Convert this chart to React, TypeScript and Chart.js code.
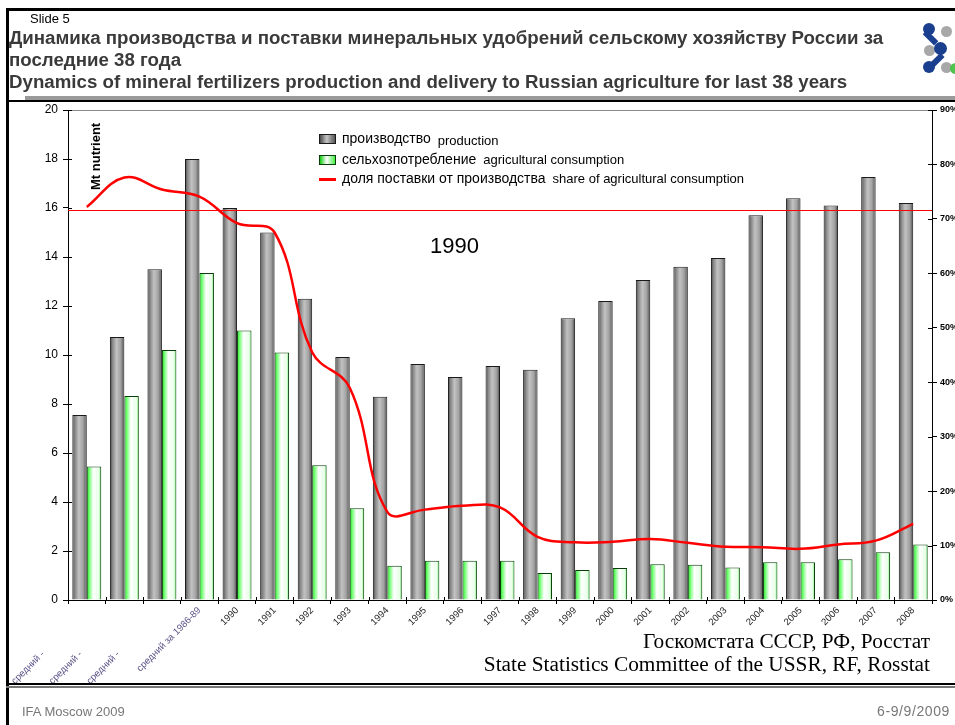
import React, { useEffect, useRef } from 'react';
import { Chart, registerables } from 'chart.js';

Chart.register(...registerables);

const CATEGORIES = [
  'средний -', 'средний -', 'средний -', 'средний за 1986-89',
  '1990', '1991', '1992', '1993', '1994', '1995', '1996', '1997', '1998', '1999',
  '2000', '2001', '2002', '2003', '2004', '2005', '2006', '2007', '2008',
];
const PRODUCTION = [7.55, 10.73, 13.5, 18.0, 16.0, 15.0, 12.3, 9.92, 8.3, 9.63, 9.1, 9.55, 9.4, 11.5, 12.2, 13.06, 13.6, 13.96, 15.7, 16.4, 16.1, 17.27, 16.2];
const CONSUMPTION = [5.45, 8.33, 10.2, 13.35, 11.0, 10.1, 5.5, 3.75, 1.4, 1.6, 1.6, 1.6, 1.1, 1.22, 1.31, 1.46, 1.44, 1.33, 1.54, 1.54, 1.66, 1.95, 2.27];
const SHARE = [72.2, 77.6, 75.4, 74.1, 69.2, 67.5, 45.5, 39.0, 16.2, 16.6, 17.3, 17.0, 11.6, 10.6, 10.7, 11.2, 10.5, 9.8, 9.7, 9.4, 10.2, 10.9, 14.0];
const REF_SHARE = 71.6;
const LEFT_TICKS = [0, 20, 2];
const RIGHT_TICKS = [0, 90, 10];

const SERIES_RU = ['производство', 'сельхозпотребление', 'доля поставки от производства'];
const SERIES_EN = ['production', 'agricultural consumption', 'share of agricultural consumption'];

const CAT_PCT = 0.77;
const FONT = '"Liberation Sans", Arial, sans-serif';

function barFill(kind: number) {
  return (ctx: any) => {
    const fallback = kind === 0 ? '#aaaaaa' : '#ccffcc';
    const chart = ctx.chart;
    const x = chart.scales && chart.scales.x;
    if (!x || ctx.type !== 'data') return fallback;
    const center = x.getPixelForValue(ctx.dataIndex);
    const catW = (x.right - x.left) / CATEGORIES.length;
    const barW = (catW * CAT_PCT) / 2;
    const left = center - (catW * CAT_PCT) / 2 + kind * barW;
    if (!Number.isFinite(left) || !Number.isFinite(barW) || barW <= 0) return fallback;
    const g = chart.ctx.createLinearGradient(left, 0, left + barW, 0);
    if (kind === 0) {
      g.addColorStop(0, '#444444');
      g.addColorStop(0.18, '#878787');
      g.addColorStop(0.45, '#c2c2c2');
      g.addColorStop(0.75, '#a2a2a2');
      g.addColorStop(1, '#4f4f4f');
    } else {
      g.addColorStop(0, '#11cc11');
      g.addColorStop(0.15, '#66ff66');
      g.addColorStop(0.45, '#ffffff');
      g.addColorStop(0.85, '#e6ffe6');
      g.addColorStop(1, '#44ee44');
    }
    return g;
  };
}

const decorPlugin = {
  id: 'decor',
  beforeDatasetsDraw(chart: any) {
    const { ctx, chartArea } = chart;
    ctx.save();
    ctx.strokeStyle = '#888888';
    ctx.lineWidth = 1;
    ctx.beginPath();
    ctx.moveTo(chartArea.left, chartArea.top + 0.5);
    ctx.lineTo(chartArea.right, chartArea.top + 0.5);
    ctx.stroke();
    ctx.strokeStyle = '#000000';
    const y = chart.scales.y;
    y.ticks.forEach((_t: any, i: number) => {
      const p = Math.round(y.getPixelForTick(i)) + 0.5;
      ctx.beginPath();
      ctx.moveTo(chartArea.left, p);
      ctx.lineTo(chartArea.left + 4, p);
      ctx.stroke();
    });
    const y1 = chart.scales.y1;
    y1.ticks.forEach((_t: any, i: number) => {
      const p = Math.round(y1.getPixelForTick(i)) + 0.5;
      ctx.beginPath();
      ctx.moveTo(chartArea.right, p);
      ctx.lineTo(chartArea.right - 4, p);
      ctx.stroke();
    });
    const x = chart.scales.x;
    const catW = (x.right - x.left) / CATEGORIES.length;
    for (let i = 0; i <= CATEGORIES.length; i++) {
      const p = Math.round(x.left + i * catW) + 0.5;
      ctx.beginPath();
      ctx.moveTo(p, chartArea.bottom);
      ctx.lineTo(p, chartArea.bottom - 3);
      ctx.stroke();
    }
    ctx.restore();
  },
  afterDatasetsDraw(chart: any) {
    const { ctx, chartArea } = chart;
    const yy = Math.round(chart.scales.y1.getPixelForValue(REF_SHARE)) + 0.5;
    ctx.save();
    ctx.strokeStyle = '#ff0000';
    ctx.lineWidth = 1;
    ctx.beginPath();
    ctx.moveTo(chartArea.left, yy);
    ctx.lineTo(chartArea.right, yy);
    ctx.stroke();
    ctx.restore();
  },
};

function ChartCanvas() {
  const ref = useRef<HTMLCanvasElement | null>(null);
  useEffect(() => {
    if (!ref.current) return;
    const chart = new Chart(ref.current, {
      type: 'bar',
      data: {
        labels: CATEGORIES,
        datasets: [
          {
            type: 'line',
            label: SERIES_RU[2],
            data: SHARE,
            yAxisID: 'y1',
            borderColor: '#ff0000',
            borderWidth: 2.5,
            pointRadius: 0,
            tension: 0.4,
            fill: false,
            order: 0,
          } as any,
          {
            label: SERIES_RU[0],
            data: PRODUCTION,
            yAxisID: 'y',
            backgroundColor: barFill(0),
            borderColor: '#1a1a1a',
            borderWidth: 1,
            categoryPercentage: CAT_PCT,
            barPercentage: 1,
            order: 1,
          },
          {
            label: SERIES_RU[1],
            data: CONSUMPTION,
            yAxisID: 'y',
            backgroundColor: barFill(1),
            borderColor: '#0b3d0b',
            borderWidth: 1,
            categoryPercentage: CAT_PCT,
            barPercentage: 1,
            order: 1,
          },
        ],
      },
      options: {
        animation: false,
        responsive: false,
        maintainAspectRatio: false,
        layout: { padding: { left: 0, right: 0, top: 110, bottom: 0 } },
        plugins: { legend: { display: false }, tooltip: { enabled: false }, title: { display: false } },
        scales: {
          x: {
            offset: true,
            grid: { offset: true, drawOnChartArea: false, drawTicks: true, tickLength: 4, color: '#000' },
            border: { display: true, color: '#000', width: 1 },
            ticks: {
              maxRotation: 45,
              minRotation: 45,
              autoSkip: false,
              padding: 1,
              color: (c: any) => (c.index < 4 ? '#5a4f86' : '#222'),
              font: { family: FONT, size: 9.5 },
              callback: (_v: any, i: number) => {
                const l = CATEGORIES[i];
                return l.endsWith('-') ? l + '\u2003'.repeat(6) + '\u2002' : l;
              },
            },
            afterFit: (s: any) => { s.height = 125; },
          },
          y: {
            position: 'left',
            min: LEFT_TICKS[0],
            max: LEFT_TICKS[1],
            ticks: { stepSize: LEFT_TICKS[2], color: '#000', font: { family: FONT, size: 12 }, padding: 5 },
            grid: { drawOnChartArea: false, drawTicks: true, tickLength: 5, color: '#000' },
            border: { display: true, color: '#000', width: 1 },
            afterFit: (s: any) => { s.width = 68; },
          },
          y1: {
            position: 'right',
            min: RIGHT_TICKS[0],
            max: RIGHT_TICKS[1],
            ticks: {
              stepSize: RIGHT_TICKS[2],
              color: '#000',
              font: { family: FONT, size: 9, weight: 'bold' },
              padding: 3,
              callback: (v: any) => v + '%',
            },
            grid: { drawOnChartArea: false, drawTicks: true, tickLength: 5, color: '#000' },
            border: { display: true, color: '#000', width: 1 },
            afterFit: (s: any) => { s.width = 23; },
          },
        },
      },
      plugins: [decorPlugin],
    } as any);
    return () => chart.destroy();
  }, []);
  return (
    <canvas
      ref={ref}
      width={955}
      height={725}
      style={{ position: 'absolute', left: 0, top: 0, width: 955, height: 725 }}
    />
  );
}

const abs = (o: any): any => ({ position: 'absolute', ...o });

function LegendRow({ top, kind, ru, en, enShift }: any) {
  const box =
    kind === 0
      ? { background: 'linear-gradient(to right,#4a4a4a,#c4c4c4 45%,#555)', border: '1px solid #1a1a1a' }
      : { background: 'linear-gradient(to right,#11cc11,#ffffff 45%,#44ee44)', border: '1px solid #0b3d0b' };
  return (
    <>
      {kind < 2 ? (
        <div style={abs({ left: 319, top: top - 5, width: 15, height: 8, ...box })} />
      ) : (
        <div style={abs({ left: 319, top: top - 1, width: 17, height: 3, background: '#ff0000' })} />
      )}
      <div style={abs({ left: 342, top: top - 9, fontFamily: FONT, fontSize: 14, lineHeight: '16px', whiteSpace: 'nowrap', color: '#000' })}>
        {ru}
        <span style={{ fontSize: 13, marginLeft: 7, position: 'relative', top: enShift }}>{en}</span>
      </div>
    </>
  );
}

function Logo() {
  const c = (x: number, y: number, col: string, r = 5.5) => (
    <div style={abs({ left: x - r, top: y - r, width: r * 2, height: r * 2, borderRadius: '50%', background: col })} />
  );
  return (
    <>
      {c(946, 31, '#a8a8a8')}
      {c(929, 50, '#a8a8a8')}
      {c(946, 67, '#a8a8a8')}
      {c(955, 68, '#4ec34e')}
      <div style={abs({ left: 927, top: 30, width: 16, height: 6, background: '#1b3f8f', transform: 'rotate(45deg)', transformOrigin: '0 0' })} />
      <div style={abs({ left: 929, top: 64, width: 16, height: 6, background: '#1b3f8f', transform: 'rotate(-45deg)', transformOrigin: '0 0' })} />
      {c(929, 29, '#1b3f8f', 6)}
      {c(940, 48, '#1b3f8f', 6.5)}
      {c(929, 67, '#1b3f8f', 6)}
    </>
  );
}

export default function App() {
  return (
    <div style={abs({ left: 0, top: 0, width: 955, height: 725, background: '#fff', overflow: 'hidden' })}>
      <ChartCanvas />
      <div style={abs({ left: 6, top: 8, width: 3, height: 717, background: '#000' })} />
      <div style={abs({ left: 6, top: 8, width: 949, height: 3, background: '#000' })} />
      <div style={abs({ left: 25, top: 96, width: 930, height: 4, background: '#9a9a9a' })} />
      <div style={abs({ left: 6, top: 100, width: 949, height: 2, background: '#000' })} />
      <div style={abs({ left: 6, top: 683, width: 949, height: 2, background: '#000' })} />
      <div style={abs({ left: 6, top: 686, width: 949, height: 2, background: '#777' })} />
      <div style={abs({ left: 30, top: 11, fontFamily: FONT, fontSize: 13, lineHeight: '15px', color: '#000' })}>Slide 5</div>
      <div style={abs({ left: 9, top: 27, width: 910, fontFamily: FONT, fontSize: 18.7, fontWeight: 'bold', lineHeight: '22px', color: '#3a3a3a', whiteSpace: 'nowrap' })}>
        Динамика производства и поставки минеральных удобрений сельскому хозяйству России за
        <br />
        последние 38 года
        <br />
        Dynamics of mineral fertilizers production and delivery to Russian agriculture for last 38 years
      </div>
      <Logo />
      <div style={abs({ left: 88, top: 190, transform: 'rotate(-90deg)', transformOrigin: '0 0', fontFamily: FONT, fontSize: 13, fontWeight: 'bold', lineHeight: '15px', whiteSpace: 'nowrap', color: '#000' })}>
        Mt nutrient
      </div>
      <div style={abs({ left: 430, top: 233, fontFamily: FONT, fontSize: 22, lineHeight: '26px', color: '#000' })}>1990</div>
      <LegendRow top={139} kind={0} ru={SERIES_RU[0]} en={SERIES_EN[0]} enShift={2} />
      <LegendRow top={160} kind={1} ru={SERIES_RU[1]} en={SERIES_EN[1]} enShift={0} />
      <LegendRow top={179} kind={2} ru={SERIES_RU[2]} en={SERIES_EN[2]} enShift={0} />
      <div style={abs({ right: 25, top: 630, textAlign: 'right', fontFamily: '"Liberation Serif", "Times New Roman", serif', fontSize: 21.3, lineHeight: '23px', color: '#000', whiteSpace: 'nowrap' })}>
        Госкомстата СССР, РФ, Росстат
        <br />
        State Statistics Committee of the USSR, RF, Rosstat
      </div>
      <div style={abs({ left: 22, top: 704, fontFamily: FONT, fontSize: 13, color: '#777', whiteSpace: 'nowrap' })}>IFA Moscow 2009</div>
      <div style={abs({ right: 5, top: 703, fontFamily: FONT, fontSize: 14, letterSpacing: 0.6, color: '#777', whiteSpace: 'nowrap' })}>6-9/9/2009</div>
    </div>
  );
}
